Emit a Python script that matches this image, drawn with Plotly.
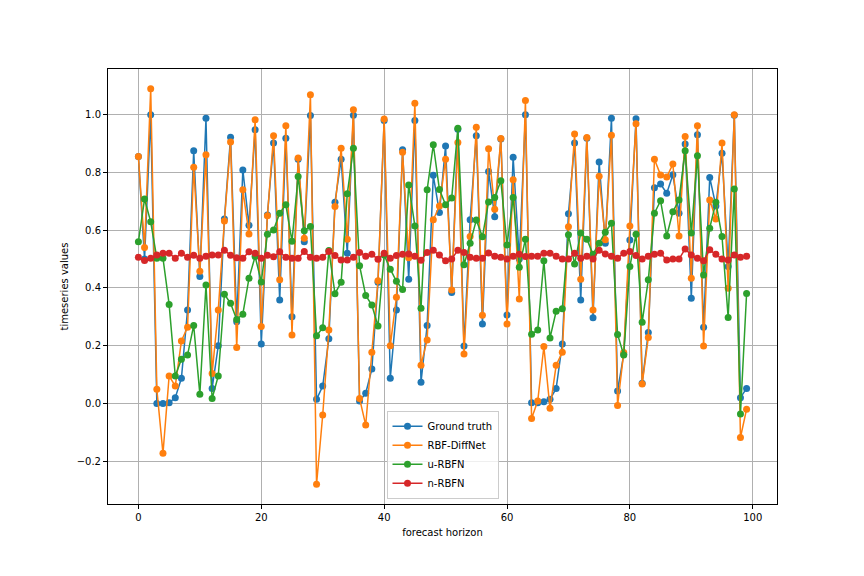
import plotly.graph_objects as go

# forecast horizon steps
horizon = list(range(100))

ground_truth = [
    0.855, 0.50, 1.0, 0.0, 0.0, 0.002, 0.02, 0.087, 0.324, 0.875,
    0.44, 0.988, 0.052, 0.2, 0.639, 0.922, 0.283, 0.809, 0.617, 0.948,
    0.206, 0.653, 0.902, 0.358, 0.919, 0.30, 0.846, 0.56, 0.997, 0.014,
    0.06, 0.224, 0.697, 0.846, 0.52, 0.998, 0.008, 0.035, 0.119, 0.42,
    0.98, 0.087, 0.324, 0.879, 0.43, 0.98, 0.073, 0.27, 0.79, 0.661,
    0.892, 0.384, 0.95, 0.199, 0.636, 0.927, 0.275, 0.803, 0.647, 0.916,
    0.306, 0.853, 0.50, 1.0, 0.002, 0.002, 0.006, 0.014, 0.052, 0.206,
    0.657, 0.902, 0.358, 0.919, 0.297, 0.836, 0.555, 0.988, 0.043, 0.17,
    0.566, 0.986, 0.07, 0.246, 0.747, 0.76, 0.728, 0.792, 0.659, 0.899,
    0.364, 0.931, 0.264, 0.783, 0.684, 0.867, 0.474, 0.998, 0.02, 0.052,
]

rbf_diffnet = [
    0.855, 0.54, 1.09, 0.049, -0.173, 0.095, 0.06, 0.216, 0.264, 0.818,
    0.458, 0.861, 0.104, 0.324, 0.632, 0.906, 0.194, 0.74, 0.587, 0.983,
    0.266, 0.65, 0.927, 0.428, 0.962, 0.237, 0.85, 0.572, 1.069, -0.28,
    -0.04, 0.254, 0.682, 0.884, 0.569, 1.017, 0.017, -0.075, 0.177, 0.425,
    0.985, 0.2, 0.368, 0.87, 0.505, 1.04, 0.132, 0.22, 0.636, 0.684,
    0.846, 0.393, 0.904, 0.171, 0.578, 0.957, 0.305, 0.882, 0.673, 0.918,
    0.275, 0.775, 0.362, 1.049, -0.052, 0.008, 0.197, -0.017, 0.132, 0.177,
    0.612, 0.933, 0.43, 0.921, 0.324, 0.787, 0.567, 0.929, -0.007, 0.176,
    0.615, 0.969, 0.067, 0.228, 0.846, 0.791, 0.784, 0.829, 0.58, 0.925,
    0.434, 0.962, 0.199, 0.705, 0.639, 0.902, 0.399, 1.0, -0.118, -0.02,
]

u_rbfn = [
    0.56, 0.708, 0.629, 0.503, 0.503, 0.343, 0.095, 0.153, 0.168, 0.27,
    0.032, 0.41, 0.017, 0.095, 0.378, 0.347, 0.291, 0.309, 0.434, 0.509,
    0.421, 0.586, 0.601, 0.659, 0.688, 0.562, 0.786, 0.598, 0.613, 0.234,
    0.262, 0.53, 0.38, 0.42, 0.726, 0.884, 0.477, 0.374, 0.341, 0.268,
    0.514, 0.465, 0.423, 0.395, 0.757, 0.615, 0.33, 0.74, 0.896, 0.741,
    0.688, 0.712, 0.953, 0.48, 0.555, 0.635, 0.577, 0.698, 0.713, 0.771,
    0.549, 0.713, 0.472, 0.569, 0.24, 0.254, 0.494, 0.227, 0.319, 0.328,
    0.584, 0.483, 0.59, 0.569, 0.517, 0.555, 0.593, 0.624, 0.239, 0.168,
    0.474, 0.586, 0.281, 0.428, 0.659, 0.702, 0.58, 0.664, 0.705, 0.875,
    0.59, 0.858, 0.445, 0.607, 0.697, 0.578, 0.298, 0.743, -0.037, 0.381,
]

n_rbfn = [
    0.506, 0.495, 0.503, 0.514, 0.52, 0.52, 0.503, 0.52, 0.506, 0.513,
    0.503, 0.51, 0.514, 0.514, 0.531, 0.513, 0.505, 0.503, 0.525, 0.52,
    0.503, 0.513, 0.508, 0.525, 0.506, 0.503, 0.503, 0.526, 0.506, 0.503,
    0.506, 0.526, 0.512, 0.497, 0.497, 0.506, 0.523, 0.51, 0.517, 0.499,
    0.52, 0.503, 0.512, 0.517, 0.518, 0.51, 0.496, 0.523, 0.531, 0.514,
    0.494, 0.5, 0.531, 0.523, 0.506, 0.503, 0.503, 0.521, 0.51, 0.506,
    0.5, 0.51, 0.517, 0.509, 0.51, 0.51, 0.52, 0.52, 0.51, 0.5,
    0.5, 0.52, 0.503, 0.51, 0.5, 0.531, 0.518, 0.51, 0.503, 0.52,
    0.526, 0.512, 0.5, 0.51, 0.517, 0.52, 0.497, 0.5, 0.5, 0.535,
    0.514, 0.503, 0.494, 0.532, 0.517, 0.5, 0.497, 0.514, 0.506, 0.51,
]

series = [
    ("Ground truth", ground_truth, "#1f77b4"),
    ("RBF-DiffNet", rbf_diffnet, "#ff7f0e"),
    ("u-RBFN", u_rbfn, "#2ca02c"),
    ("n-RBFN", n_rbfn, "#d62728"),
]

fig = go.Figure()
for name, vals, color in series:
    fig.add_trace(go.Scatter(
        x=horizon, y=vals, name=name, mode="lines+markers",
        line=dict(color=color, width=1.5),
        marker=dict(color=color, size=7),
    ))

axis_common = dict(
    showline=True, linecolor="black", linewidth=1, mirror=True,
    ticks="outside", ticklen=4, tickcolor="black",
    showgrid=True, gridcolor="#b0b0b0", gridwidth=0.8,
    zeroline=False, tickfont=dict(size=10, color="black"),
)

# page body adds 8px offset, margins compensate
fig.update_layout(
    width=864, height=576,
    margin=dict(l=100, r=95, t=61, b=80),
    paper_bgcolor="white", plot_bgcolor="white",
    font=dict(family="DejaVu Sans", size=10, color="black"),
    xaxis=dict(axis_common, range=[-4.95, 103.95], dtick=20,
               title=dict(text="forecast horizon", font=dict(size=10), standoff=6)),
    yaxis=dict(axis_common, range=[-0.3485, 1.1585], dtick=0.2, tick0=0,
               tickformat=".1f",
               title=dict(text="timeseries values", font=dict(size=10), standoff=6)),
    legend=dict(x=0.5, y=0.012, xanchor="center", yanchor="bottom",
                bgcolor="rgba(255,255,255,0.8)", bordercolor="#cccccc",
                borderwidth=1, font=dict(size=10), itemwidth=30,
                tracegroupgap=0),
    showlegend=True,
)

fig.write_html("out.html")
